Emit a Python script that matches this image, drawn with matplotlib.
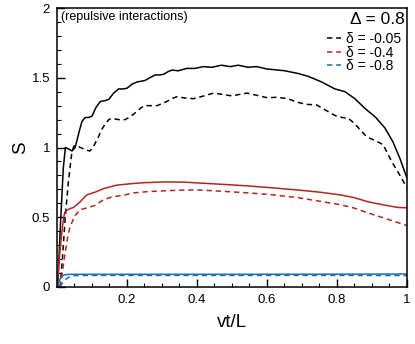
import matplotlib
matplotlib.use("Agg")
import matplotlib.pyplot as plt
from matplotlib.ticker import MultipleLocator, FuncFormatter

plt.rcParams['font.family'] = ['Liberation Sans', 'DejaVu Sans']

# values
black_x = [0.002, 0.01, 0.018, 0.024, 0.033, 0.043, 0.052, 0.062, 0.071, 0.08, 0.09, 0.1,
           0.112, 0.124, 0.136, 0.148, 0.162, 0.176, 0.19, 0.2, 0.215, 0.229, 0.24, 0.251,
           0.265, 0.28, 0.293, 0.305, 0.318, 0.329, 0.347, 0.37, 0.394, 0.418, 0.442, 0.47,
           0.495, 0.518, 0.546, 0.57, 0.6, 0.628, 0.651, 0.69, 0.718, 0.756, 0.794, 0.823,
           0.851, 0.88, 0.909, 0.937, 0.96, 0.98, 1.0]
black_s = [0.0, 0.45, 0.85, 1.0, 0.99, 0.975, 1.0, 1.10, 1.185, 1.215, 1.215, 1.225,
           1.29, 1.33, 1.335, 1.345, 1.39, 1.42, 1.42, 1.425, 1.455, 1.47, 1.475, 1.48,
           1.50, 1.52, 1.52, 1.525, 1.545, 1.555, 1.55, 1.567, 1.567, 1.58, 1.575, 1.59,
           1.58, 1.59, 1.575, 1.58, 1.563, 1.556, 1.55, 1.53, 1.51, 1.47, 1.42, 1.40,
           1.35, 1.28, 1.22, 1.14, 1.04, 0.92, 0.78]

black_dx = [0.009, 0.016, 0.023, 0.032, 0.042, 0.048, 0.057, 0.067, 0.08, 0.094, 0.105,
            0.119, 0.128, 0.138, 0.148, 0.157, 0.175, 0.195, 0.212, 0.229, 0.24, 0.252,
            0.27, 0.286, 0.3, 0.314, 0.328, 0.342, 0.365, 0.39, 0.42, 0.447, 0.475, 0.5,
            0.52, 0.542, 0.57, 0.6, 0.628, 0.66, 0.68, 0.709, 0.742, 0.775, 0.794, 0.815,
            0.832, 0.851, 0.865, 0.88, 0.895, 0.909, 0.932, 0.956, 0.98, 1.0]
black_ds = [0.0, 0.22, 0.48, 0.74, 0.956, 1.01, 1.01, 1.0, 0.985, 0.975, 1.01,
            1.08, 1.13, 1.17, 1.2, 1.21, 1.2, 1.2, 1.225, 1.26, 1.285, 1.30,
            1.30, 1.30, 1.315, 1.33, 1.35, 1.364, 1.355, 1.35, 1.37, 1.39, 1.38, 1.37,
            1.38, 1.39, 1.375, 1.357, 1.36, 1.35, 1.33, 1.31, 1.305, 1.257, 1.23, 1.215,
            1.21, 1.17, 1.13, 1.09, 1.065, 1.05, 1.02, 0.90, 0.80, 0.71]

red_x = [0.001, 0.005, 0.01, 0.015, 0.02, 0.023, 0.035, 0.047, 0.066, 0.085, 0.109, 0.133,
         0.17, 0.209, 0.25, 0.31, 0.36, 0.41, 0.48, 0.55, 0.62, 0.69, 0.75, 0.81, 0.85,
         0.89, 0.94, 0.975, 1.0]
red_s = [0.0, 0.15, 0.3, 0.42, 0.51, 0.54, 0.56, 0.57, 0.61, 0.66, 0.68, 0.705,
         0.73, 0.74, 0.748, 0.753, 0.752, 0.745, 0.735, 0.724, 0.71, 0.695, 0.68, 0.66, 0.64,
         0.61, 0.585, 0.57, 0.568]

red_dx = [0.009, 0.015, 0.023, 0.03, 0.037, 0.051, 0.066, 0.085, 0.109, 0.133, 0.156, 0.19,
          0.218, 0.26, 0.31, 0.36, 0.41, 0.48, 0.55, 0.62, 0.69, 0.75, 0.81, 0.85, 0.89,
          0.94, 0.97, 1.0]
red_ds = [0.0, 0.1, 0.24, 0.35, 0.43, 0.51, 0.555, 0.566, 0.586, 0.626, 0.645, 0.658,
          0.674, 0.684, 0.69, 0.695, 0.695, 0.685, 0.674, 0.66, 0.64, 0.615, 0.59, 0.565, 0.53,
          0.49, 0.465, 0.44]

blue_x = [0.0, 0.005, 0.01, 0.015, 0.02, 0.028, 0.05, 0.2, 0.5, 0.8, 1.0]
blue_s = [0.0, 0.035, 0.062, 0.078, 0.085, 0.09, 0.091, 0.091, 0.091, 0.092, 0.093]

blue_dx = [0.008, 0.015, 0.023, 0.032, 0.042, 0.055, 0.1, 0.5, 0.8, 1.0]
blue_ds = [0.0, 0.025, 0.05, 0.068, 0.078, 0.082, 0.083, 0.083, 0.083, 0.082]

labels = ['\u03b4 = -0.05', '\u03b4 = -0.4', '\u03b4 = -0.8']
colors = ['black', '#b3261e', '#1b6db5']

fig = plt.figure(figsize=(4.15, 3.44), dpi=100)
ax = fig.add_axes([0.1373, 0.1657, 0.8434, 0.811])

dash = (0, (3.5, 2.5))
ax.plot(black_x, black_s, color=colors[0], lw=1.1)
ax.plot(black_dx, black_ds, color=colors[0], lw=1.1, linestyle=dash, label=labels[0])
ax.plot(red_x, red_s, color=colors[1], lw=1.1)
ax.plot(red_dx, red_ds, color=colors[1], lw=1.1, linestyle=dash, label=labels[1])
ax.plot(blue_x, blue_s, color=colors[2], lw=1.1)
ax.plot(blue_dx, blue_ds, color=colors[2], lw=1.1, linestyle=dash, label=labels[2])

ax.set_xlim(0, 1)
ax.set_ylim(0, 2)
ax.xaxis.set_major_locator(MultipleLocator(0.2))
ax.xaxis.set_minor_locator(MultipleLocator(0.05))
ax.yaxis.set_major_locator(MultipleLocator(0.5))
ax.yaxis.set_minor_locator(MultipleLocator(0.1))

def fmt(v, pos):
    return f"{v:g}"

ax.xaxis.set_major_formatter(FuncFormatter(lambda v, p: "" if abs(v) < 1e-9 else f"{v:g}"))
ax.yaxis.set_major_formatter(FuncFormatter(fmt))
ax.tick_params(which='both', direction='in', top=False, right=False, labelsize=9.5)
ax.tick_params(which='major', length=6, width=1, pad=5)
ax.tick_params(which='minor', length=3, width=0.8)
for sp in ax.spines.values():
    sp.set_linewidth(1.1)

ax.set_xlabel('vt/L', fontsize=13.5, labelpad=6)
ax.set_ylabel('S', fontsize=13.5, labelpad=2)

ax.text(0.012, 0.99, '(repulsive interactions)', transform=ax.transAxes,
        fontsize=9, ha='left', va='top')
ax.text(0.995, 0.985, '\u0394 = 0.8', transform=ax.transAxes,
        fontsize=12.5, ha='right', va='top')
ax.legend(loc='upper right', bbox_to_anchor=(1.01, 0.948), frameon=False,
          fontsize=10, handlelength=1.0, handletextpad=0.35, labelspacing=-0.05,
          borderpad=0.2)

plt.savefig('out.png', dpi=100)
